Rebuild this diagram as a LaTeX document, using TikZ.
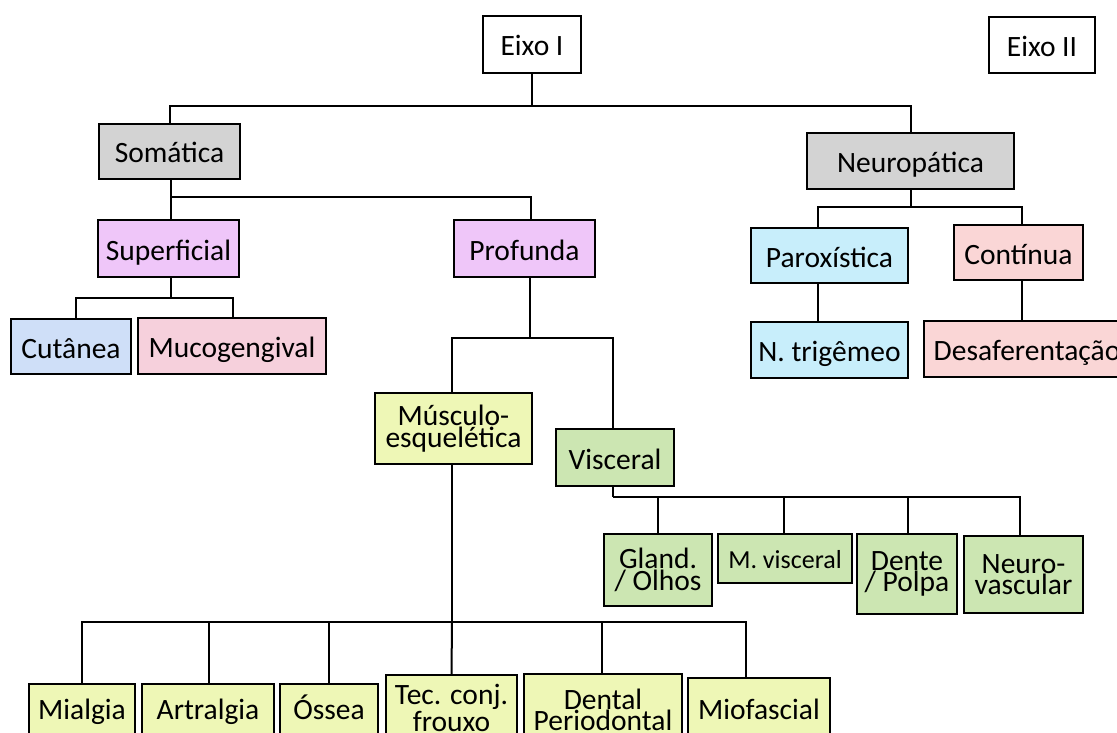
\documentclass[tikz,border=0pt]{standalone}
\usepackage{fontspec}
\setmainfont{Carlito}
\definecolor{cgrey}{HTML}{D3D3D3}
\definecolor{cviolet}{HTML}{EFC6F9}
\definecolor{cblue}{HTML}{CFDFF8}
\definecolor{cmuco}{HTML}{F6D0DC}
\definecolor{ccyan}{HTML}{C8EEFB}
\definecolor{cpink}{HTML}{FAD6D6}
\definecolor{cyel}{HTML}{EEF7B6}
\definecolor{cgreen}{HTML}{CCE6B2}
\tikzset{
  bx/.style={draw=black, line width=2.4pt, inner sep=0pt, align=center,
    font=\fontsize{29.5}{21.5}\selectfont},
  one/.style={text height=25pt, text depth=2pt},
  conn/.style={draw=black, line width=2pt}
}
\begin{document}
\begin{tikzpicture}[x=1pt,y=-1pt]
\useasboundingbox (0,0) rectangle (1117,733);
% nodes
\node[bx, one, fill=white, minimum width=98pt, minimum height=57pt] (eixo1) at (532,44.5) {Eixo I};
\node[bx, one, fill=white, minimum width=106pt, minimum height=56pt] (eixo2) at (1042,45) {Eixo II};
\node[bx, one, fill=cgrey, minimum width=141pt, minimum height=55pt] (soma) at (169.5,151.5) {Somática};
\node[bx, one, fill=cgrey, minimum width=207pt, minimum height=56pt] (neuro) at (910.5,161) {Neuropática};
\node[bx, one, fill=cviolet, minimum width=141pt, minimum height=57pt] (sup) at (168.5,248.5) {Superficial};
\node[bx, one, fill=cviolet, minimum width=141pt, minimum height=57pt] (prof) at (524.5,248.5) {Profunda};
\node[bx, one, fill=cblue, minimum width=120pt, minimum height=55pt] (cut) at (71,346.5) {Cutânea};
\node[bx, one, fill=cmuco, minimum width=188pt, minimum height=56pt] (muco) at (232,346) {Mucogengival};
\node[bx, one, fill=ccyan, minimum width=157pt, minimum height=55pt] (parox) at (829.5,255.5) {Paroxística};
\node[bx, one, fill=cpink, minimum width=129pt, minimum height=55pt] (cont) at (1018.5,252.5) {Contínua};
\node[bx, one, fill=ccyan, minimum width=157pt, minimum height=56pt] (trig) at (829.5,350) {N. trigêmeo};
\node[bx, one, fill=cpink, minimum width=206pt, minimum height=56pt] (desaf) at (1027,349) {Desaferentação};
\node[bx, fill=cyel, minimum width=157pt, minimum height=71pt] (musc) at (453.5,428.5) {Músculo-\\esquelética};
\node[bx, one, fill=cgreen, minimum width=118pt, minimum height=57pt] (visc) at (615,457.5) {Visceral};
\node[bx, fill=cgreen, minimum width=108pt, minimum height=72pt] (gland) at (658,570) {Gland.\\/ Olhos};
\node[bx, fill=cgreen, minimum width=134pt, minimum height=49pt, font=\fontsize{26}{21.5}\selectfont, text height=22pt, text depth=2pt] (mvisc) at (785,558.5) {M. visceral};
\node[bx, fill=cgreen, minimum width=100pt, minimum height=80pt] (dente) at (907,574) {Dente\\/ Polpa};
\node[bx, fill=cgreen, minimum width=119pt, minimum height=77pt] (neurov) at (1023.5,574.5) {Neuro-\\vascular};
\node[bx, fill=cyel, minimum width=106pt, minimum height=50pt, text height=23pt, text depth=2pt] (mial) at (82,709) {Mialgia};
\node[bx, fill=cyel, minimum width=132pt, minimum height=50pt, text height=23pt, text depth=2pt] (artr) at (208,709) {Artralgia};
\node[bx, fill=cyel, minimum width=98pt, minimum height=50pt, text height=23pt, text depth=2pt] (ossea) at (329,709) {Óssea};
\node[bx, fill=cyel, minimum width=131pt, minimum height=66pt] (tec) at (451.5,708) {Tec. conj.\\frouxo};
\node[bx, fill=cyel, minimum width=158pt, minimum height=72pt] (dental) at (603,710) {Dental\\Periodontal};
\node[bx, fill=cyel, minimum width=142pt, minimum height=62pt, text height=23pt, text depth=2pt] (miof) at (759,709) {Miofascial};
% connectors
\draw[conn] (eixo1.south) -- ++(0,31.5) coordinate (t1);
\draw[conn] (t1) -| (soma.north);
\draw[conn] (t1) -| (neuro.north);
\draw[conn] ([xshift=1.5pt]soma.south) -- ++(0,17) coordinate (t2);
\draw[conn] (t2) -| ([xshift=2.5pt]sup.north);
\draw[conn] (t2) -| ([xshift=6.5pt]prof.north);
\draw[conn] ([xshift=2.5pt]sup.south) -- ++(0,20) coordinate (t3);
\draw[conn] (t3) -| ([xshift=5pt]cut.north);
\draw[conn] (t3) -| ([xshift=1pt]muco.north);
\draw[conn] ([xshift=5.5pt]prof.south) -- ++(0,60) coordinate (t4);
\draw[conn] (t4) -| ([xshift=-1.5pt]musc.north);
\draw[conn] (t4) -| ([xshift=-2pt]visc.north);
\draw[conn] ([xshift=-1.5pt]musc.south) -- ++(0,157) coordinate (t5);
\draw[conn] (t5) -| (mial.north);
\draw[conn] (t5) -| ([xshift=1pt]artr.north);
\draw[conn] (t5) -| (ossea.north);
\draw[conn] (t5) -- (tec.north);
\draw[conn] (t5) -| ([xshift=-1pt]dental.north);
\draw[conn] (t5) -| ([xshift=-13pt]miof.north);
\draw[conn] ([xshift=-2pt]visc.south) -- ++(0,10) coordinate (t6);
\draw[conn] (t6) -| (gland.north);
\draw[conn] (t6) -| ([xshift=-1pt]mvisc.north);
\draw[conn] (t6) -| ([xshift=1pt]dente.north);
\draw[conn] (t6) -| ([xshift=-3.5pt]neurov.north);
\draw[conn] (neuro.south) -- ++(0,17) coordinate (t7);
\draw[conn] (t7) -| ([xshift=-11.5pt]parox.north);
\draw[conn] (t7) -| ([xshift=3.5pt]cont.north);
\draw[conn] ([xshift=-11.5pt]parox.south) -- ([xshift=-11.5pt]trig.north);
\draw[conn] ([xshift=3.5pt]cont.south) -- ([xshift=3.5pt]cont.south |- desaf.north);
\end{tikzpicture}
\end{document}
